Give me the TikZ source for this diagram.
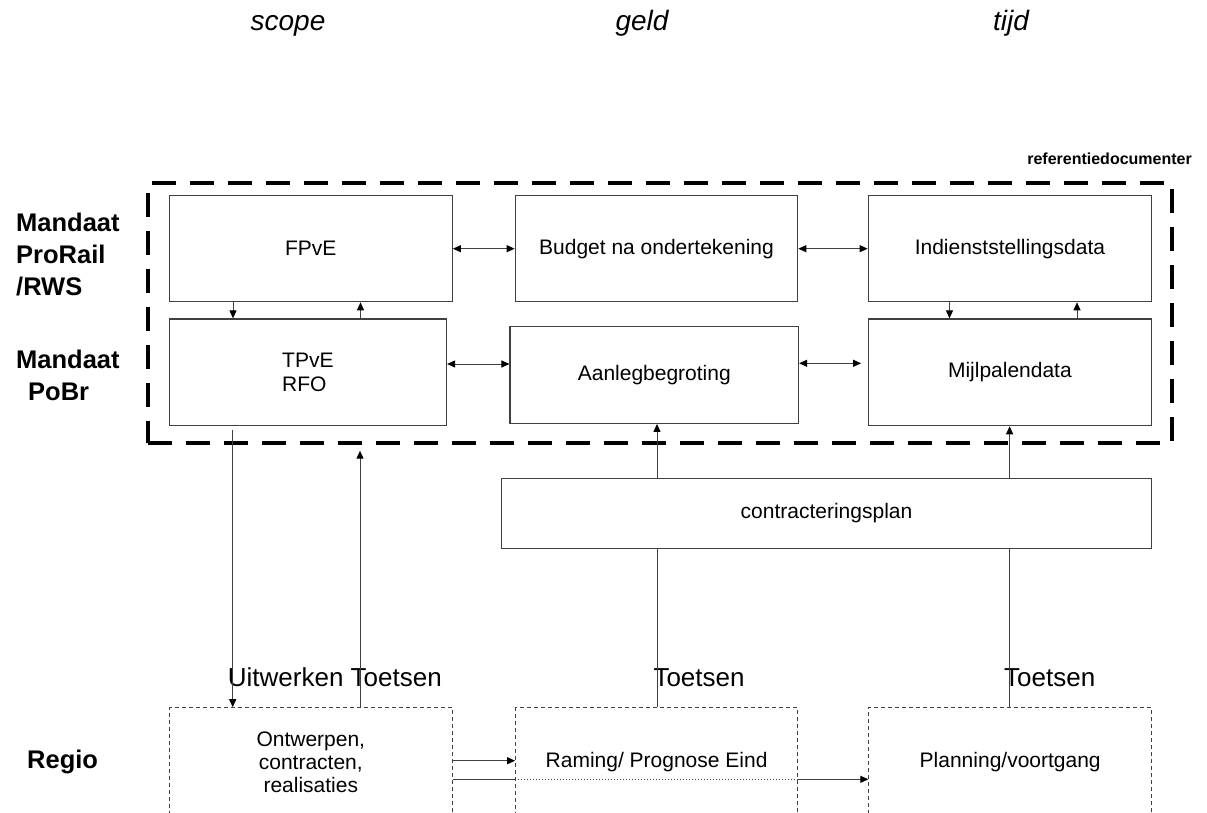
\documentclass[tikz,border=0pt]{standalone}
\usepackage{fontspec}
\setmainfont{Liberation Sans}
\usetikzlibrary{arrows.meta}
\begin{document}
\begin{tikzpicture}[x=1pt,y=-1pt,
    >={Triangle[length=8pt,width=7pt,color=black]},
    box/.style={draw=black!75, line width=1.2pt, inner sep=0pt, align=center,
        font=\fontsize{21}{24}\selectfont},
    regiobox/.style={box, line width=1pt, dash pattern=on 4pt off 3pt,
        font=\fontsize{21}{23}\selectfont},
    frame/.style={draw, line width=4pt, dash pattern=on 24pt off 14pt, inner sep=0pt},
    lbl/.style={font=\bfseries\fontsize{25.5}{32}\selectfont, inner sep=0pt, align=left},
    col/.style={font=\itshape\fontsize{28}{32}\selectfont, inner sep=0pt},
    toets/.style={font=\fontsize{26}{30}\selectfont, inner sep=0pt},
    link/.style={draw=black!75, line width=1pt}]
        \clip (0,0) rectangle (1207,813);
        \node[col, anchor=base] (scope) at (288,31) {scope};
        \node[col, anchor=base] (geld) at (642,31) {geld};
        \node[col, anchor=base] (tijd) at (1011,31) {tijd};
        \node[frame, minimum width=1024, minimum height=260] (refdoc) at (659.6,312.7) {};
        \node[anchor=base east, inner sep=0pt, font=\bfseries\fontsize{16}{19}\selectfont] (reflabel) at (1192,165) {referentiedocumenter};
        \node[lbl, anchor=north west] (prorail) at (16,212.5) {Mandaat\\ProRail\\/RWS};
        \node[lbl, anchor=north west] (pobr) at (16,349.5) {Mandaat\\\hspace*{12pt}PoBr};
        \node[lbl, anchor=base west] (regio) at (27,768) {Regio};
        \node[box, minimum width=283, minimum height=106] (fpve) at (310.8,248.7) {FPvE};
        \node[box, minimum width=282.5, minimum height=106] (budget) at (656.5,248.7) {Budget na ondertekening};
        \node[box, minimum width=283.3, minimum height=106] (indienst) at (1009.9,248.7) {Indienststellingsdata};
        \node[box, align=left, minimum width=277.2, minimum height=106.7] (tpve) at (307.9,372.3) {TPvE\\RFO};
        \node[box, minimum width=288.5, minimum height=96.6] (aanleg) at (654.3,375) {Aanlegbegroting};
        \node[box, minimum width=283.3, minimum height=106.7] (mijl) at (1009.9,372.3) {Mijlpalendata};
        \node[box, minimum width=650, minimum height=70] (contract) at (826.5,513.3) {contracteringsplan};
        \node[regiobox, minimum width=282.5, minimum height=109] (ontwerpen) at (310.8,762.2) {Ontwerpen,\\contracten,\\realisaties};
        \node[regiobox, minimum width=282, minimum height=109] (raming) at (656.6,762.2) {Raming/ Prognose Eind};
        \node[regiobox, minimum width=282.7, minimum height=109] (planning) at (1010.2,762.2) {Planning/voortgang};
        \node[toets, anchor=base west] (uitwerken) at (227.7,686) {Uitwerken Toetsen};
        \node[toets, anchor=base west] (toetsa) at (653.3,686) {Toetsen};
        \node[toets, anchor=base west] (toetsb) at (1004,686) {Toetsen};
        \coordinate (terug) at (360,450.7);
        \draw[link,<->] (fpve.east) -- (budget.west);
        \draw[link,<->] (budget.east) -- (indienst.west);
        \draw[link,<->] (tpve.east |- 0,364) -- (aanleg.west |- 0,364);
        \draw[link,<->,shorten >=6.6pt] (aanleg.east |- 0,363.3) -- (mijl.west |- 0,363.3);
        \draw[link,->] (233,0 |- fpve.south) -- (233,0 |- tpve.north);
        \draw[link,->] (360.5,0 |- tpve.north) -- (360.5,0 |- fpve.south);
        \draw[link,->] (949.5,0 |- indienst.south) -- (949.5,0 |- mijl.north);
        \draw[link,->] (1077,0 |- mijl.north) -- (1077,0 |- indienst.south);
        \draw[link,->,shorten <=3.6pt] (232.7,0 |- tpve.south) -- (232.7,0 |- ontwerpen.north);
        \draw[link,->] (360,0 |- ontwerpen.north) -- (terug);
        \draw[link,->] (657,0 |- contract.north) -- (657,0 |- aanleg.south);
        \draw[link,->] (1009.6,0 |- contract.north) -- (1009.6,0 |- mijl.south);
        \draw[link] (657,0 |- raming.north) -- (657,0 |- contract.south);
        \draw[link] (1009.6,0 |- planning.north) -- (1009.6,0 |- contract.south);
        \draw[link,->] (ontwerpen.east |- 0,760.7) -- (raming.west |- 0,760.7);
        \draw[link] (ontwerpen.east |- 0,779.3) -- (raming.west |- 0,779.3);
        \draw[link,dotted] (raming.west |- 0,779.3) -- (raming.east |- 0,779.3);
        \draw[link,->] (raming.east |- 0,779.3) -- (planning.west |- 0,779.3);
\end{tikzpicture}
\end{document}
